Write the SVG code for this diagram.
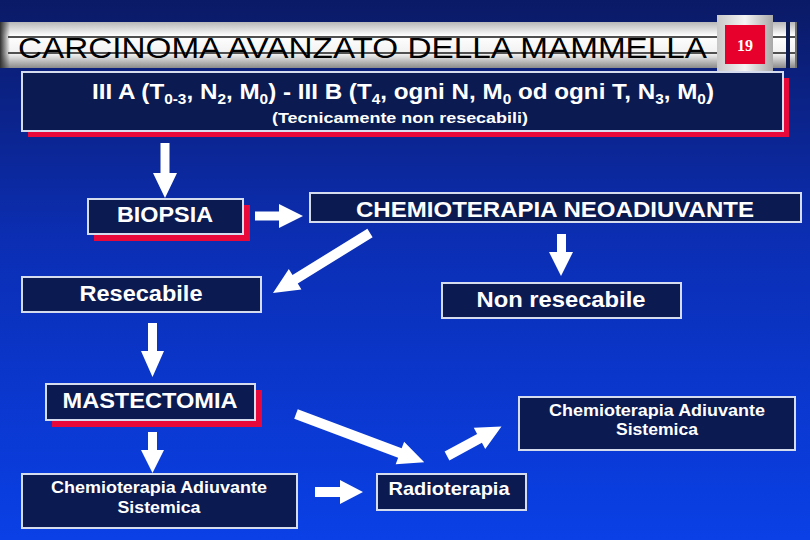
<svg xmlns="http://www.w3.org/2000/svg" width="810" height="540" viewBox="0 0 810 540">
<defs>
<linearGradient id="bg" x1="0" y1="0" x2="0" y2="1">
<stop offset="0" stop-color="#0b1a66"/>
<stop offset="0.45" stop-color="#0b2eb4"/>
<stop offset="1" stop-color="#0a40e6"/>
</linearGradient>
<linearGradient id="bar" x1="0" y1="0" x2="0" y2="1">
<stop offset="0" stop-color="#b8b8b8"/>
<stop offset="0.3" stop-color="#ffffff"/>
<stop offset="0.7" stop-color="#f0f0f0"/>
<stop offset="1" stop-color="#8a8a8a"/>
</linearGradient>
<linearGradient id="barL" x1="0" y1="0" x2="1" y2="0">
<stop offset="0" stop-color="#303030"/>
<stop offset="1" stop-color="#303030" stop-opacity="0"/>
</linearGradient>
<linearGradient id="numbox" x1="0" y1="0" x2="1" y2="0">
<stop offset="0" stop-color="#c8c8c8"/>
<stop offset="0.5" stop-color="#f4f4f4"/>
<stop offset="1" stop-color="#a8a8a8"/>
</linearGradient>
</defs>
<style>
.box{fill:#0b1a50;stroke:#d4dcee;stroke-width:2}
.shadow{fill:#e8083a}
.t{fill:#ffffff;font-family:"Liberation Sans",Arial,sans-serif;text-anchor:middle}
.b{font-weight:bold}
.arrow{fill:#ffffff}
</style>
<rect x="0" y="0" width="810" height="540" fill="url(#bg)"/>

<g id="title">
<rect x="0" y="22" width="797" height="46" fill="url(#bar)"/>
<rect x="0" y="22" width="10" height="46" fill="url(#barL)"/>
<line x1="8" y1="37" x2="797" y2="37" stroke="#505050" stroke-width="2"/>
<line x1="8" y1="53" x2="797" y2="53" stroke="#505050" stroke-width="2"/>
<rect x="786" y="22" width="4" height="46" fill="#0b1a50"/>
<rect x="795" y="22" width="2" height="46" fill="#707070"/>
<text x="18" y="58" font-family="Liberation Sans,Arial,sans-serif" font-size="29" fill="#000000" textLength="689" lengthAdjust="spacingAndGlyphs">CARCINOMA AVANZATO DELLA MAMMELLA</text>
<rect x="717" y="15" width="56" height="56" fill="url(#numbox)"/>
<rect x="725" y="25" width="40" height="39" fill="#e8002c"/>
<text x="745" y="51" font-family="Liberation Serif,'Times New Roman',serif" font-size="16" font-weight="bold" fill="#ffffff" text-anchor="middle">19</text>
</g>

<g id="header">
<rect x="28" y="78" width="761" height="59" class="shadow"/>
<rect x="22" y="72" width="761" height="59" class="box"/>
<text class="t b" x="403" y="99" font-size="22" textLength="622" lengthAdjust="spacingAndGlyphs">III A (T<tspan font-size="14" dy="5">0-3</tspan><tspan dy="-5">, N</tspan><tspan font-size="14" dy="5">2</tspan><tspan dy="-5">, M</tspan><tspan font-size="14" dy="5">0</tspan><tspan dy="-5">) - III B (T</tspan><tspan font-size="14" dy="5">4</tspan><tspan dy="-5">, ogni N, M</tspan><tspan font-size="14" dy="5">0</tspan><tspan dy="-5"> od ogni T, N</tspan><tspan font-size="14" dy="5">3</tspan><tspan dy="-5">, M</tspan><tspan font-size="14" dy="5">0</tspan><tspan dy="-5">)</tspan></text>
<text class="t b" x="400" y="123" font-size="15" textLength="256" lengthAdjust="spacingAndGlyphs">(Tecnicamente non resecabili)</text>
</g>

<g id="biopsia">
<rect x="94" y="205" width="156" height="36" class="shadow"/>
<rect x="88" y="199" width="155" height="35" class="box"/>
<text class="t b" x="165" y="222" font-size="22" textLength="96" lengthAdjust="spacingAndGlyphs">BIOPSIA</text>
</g>

<g id="chemio-neo">
<rect x="310" y="193" width="491" height="29" class="box"/>
<text class="t b" x="555" y="217" font-size="22" textLength="398" lengthAdjust="spacingAndGlyphs">CHEMIOTERAPIA NEOADIUVANTE</text>
</g>

<g id="resecabile">
<rect x="22" y="277" width="239" height="35" class="box"/>
<text class="t b" x="141" y="301" font-size="22" textLength="123" lengthAdjust="spacingAndGlyphs">Resecabile</text>
</g>

<g id="non-resecabile">
<rect x="442" y="283" width="239" height="35" class="box"/>
<text class="t b" x="561" y="307" font-size="22" textLength="169" lengthAdjust="spacingAndGlyphs">Non resecabile</text>
</g>

<g id="mastectomia">
<rect x="52" y="390" width="210" height="37" class="shadow"/>
<rect x="46" y="384" width="209" height="36" class="box"/>
<text class="t b" x="150" y="408" font-size="22" textLength="175" lengthAdjust="spacingAndGlyphs">MASTECTOMIA</text>
</g>

<g id="chemio-adiuvante-1">
<rect x="22" y="474" width="275" height="54" class="box"/>
<text class="t b" x="159" y="493" font-size="16" textLength="216" lengthAdjust="spacingAndGlyphs">Chemioterapia Adiuvante</text>
<text class="t b" x="159" y="513" font-size="16" textLength="83" lengthAdjust="spacingAndGlyphs">Sistemica</text>
</g>

<g id="radioterapia">
<rect x="377" y="474" width="149" height="36" class="box"/>
<text class="t b" x="449" y="495" font-size="19" textLength="121" lengthAdjust="spacingAndGlyphs">Radioterapia</text>
</g>

<g id="chemio-adiuvante-2">
<rect x="519" y="397" width="276" height="53" class="box"/>
<text class="t b" x="657" y="416" font-size="16" textLength="216" lengthAdjust="spacingAndGlyphs">Chemioterapia Adiuvante</text>
<text class="t b" x="657" y="435" font-size="16" textLength="82" lengthAdjust="spacingAndGlyphs">Sistemica</text>
</g>

<g id="connectors">
<polygon class="arrow" points="160.5,143 169.5,143 169.5,173 177,173 165,198 153,173 160.5,173"/>
<polygon class="arrow" points="255,211.5 279,211.5 279,204 303,216 279,228 279,220.5 255,220.5"/>
<polygon class="arrow" points="557,234 566,234 566,252 573,252 561,276 549,252 557,252"/>
<polygon class="arrow" points="148,323 157,323 157,351 164,351 152.5,377 141,351 148,351"/>
<polygon class="arrow" points="148,432 157,432 157,450 164,450 152.5,473 141,450 148,450"/>
<polygon class="arrow" points="315,487 340,487 340,480 363,492 340,504 340,497 315,497"/>
<g transform="translate(370,233) rotate(148.3)">
<polygon class="arrow" points="0,-5 88,-5 88,-12 114,0 88,12 88,5 0,5"/>
</g>
<g transform="translate(296,414) rotate(20.6)">
<polygon class="arrow" points="0,-5 111,-5 111,-12 137,0 111,12 111,5 0,5"/>
</g>
<g transform="translate(447,456) rotate(-28.5)">
<polygon class="arrow" points="0,-5 37,-5 37,-12 62,0 37,12 37,5 0,5"/>
</g>
</g>
</svg>
